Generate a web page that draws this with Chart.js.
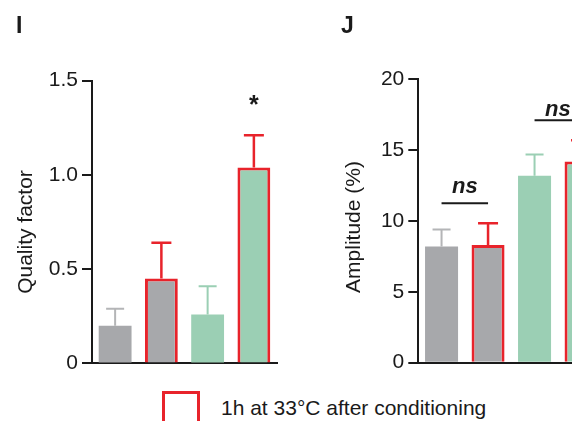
<!DOCTYPE html>
<html>
<head>
<meta charset="utf-8">
<script src="https://cdn.jsdelivr.net/npm/chart.js@4.4.1/dist/chart.umd.min.js"></script>
<style>
  html, body { margin: 0; padding: 0; background: #fff; }
  body { width: 572px; height: 421px; overflow: hidden; position: relative;
         font-family: "Liberation Sans", Arial, Helvetica, sans-serif; }
  #chartI { position: absolute; left: 0; top: 0; }
  #chartJ { position: absolute; left: 300px; top: 0; }
  .key { position: absolute; left: 162px; top: 391px; width: 38px; height: 38px;
         border: 3px solid #e8232b; box-sizing: border-box; }
  .key-text { position: absolute; left: 221px; top: 397px; font-size: 21px; line-height: 21px;
              color: #1a1a1a; white-space: nowrap; }
</style>
</head>
<body>
<canvas id="chartI" width="290" height="380"></canvas>
<canvas id="chartJ" width="320" height="380"></canvas>
<div class="key"></div>
<div class="key-text">1h at 33°C after conditioning</div>

<script>
// Groups: naive / conditioned, each measured at baseline and after 1h at 33°C
const groups = ['naive', 'naive + 1h 33°C', 'conditioned', 'conditioned + 1h 33°C'];
const heated = [false, true, false, true];
const conditioned = [false, false, true, true];

// Panel I: quality factor (mean, SEM)
const qualityMean = [0.20, 0.45, 0.26, 1.04];
const qualityErr = [0.09, 0.19, 0.15, 0.17];
const qualityTicks = ['0', '0.5', '1.0', '1.5'];
const qualityMarks = ['', '', '', '*'];

// Panel J: amplitude in % (mean, SEM)
const amplitudeMean = [8.2, 8.3, 13.2, 14.2];
const amplitudeErr = [1.2, 1.55, 1.5, 1.5];
const amplitudeTicks = ['0', '5', '10', '15', '20'];
const amplitudeBrackets = [
  { from: 0, to: 1, text: 'ns' },
  { from: 2, to: 3, text: 'ns' }
];

const FONT = '"Liberation Sans", Arial, Helvetica, sans-serif';
const INK = '#1a1a1a';
const GRAY = '#a7a8ab';
const GRAY_ERR = '#b4b5b7';
const GREEN = '#9bcfb4';
const RED = '#e8232b';

Chart.defaults.font.family = FONT;
Chart.defaults.color = INK;

// Error bars: stem from bar top to mean + SEM, with a horizontal cap
const errorBars = {
  id: 'errorBars',
  afterDatasetsDraw(chart, args, opts) {
    const { ctx } = chart;
    const y = chart.scales.y;
    const meta = chart.getDatasetMeta(0);
    const values = chart.data.datasets[0].data;
    meta.data.forEach((bar, i) => {
      const base = y.getPixelForValue(values[i]);
      const top = y.getPixelForValue(values[i] + opts.errors[i]);
      const red = heated[i];
      const color = red ? RED : (conditioned[i] ? GREEN : GRAY_ERR);
      const cap = red ? 20 : 18;
      ctx.save();
      ctx.strokeStyle = color;
      ctx.lineWidth = red ? 2.5 : 2;
      ctx.beginPath();
      ctx.moveTo(bar.x, base);
      ctx.lineTo(bar.x, top);
      ctx.moveTo(bar.x - cap / 2, top);
      ctx.lineTo(bar.x + cap / 2, top);
      ctx.stroke();
      ctx.restore();
    });
  }
};

// Panel letter, axis title, significance marks and brackets
const annotations = {
  id: 'annotations',
  afterDraw(chart, args, opts) {
    const { ctx } = chart;
    const y = chart.scales.y;
    const meta = chart.getDatasetMeta(0);
    const values = chart.data.datasets[0].data;
    const errs = opts.errors;
    const topOf = i => y.getPixelForValue(values[i] + errs[i]);
    ctx.save();
    ctx.fillStyle = INK;
    ctx.font = 'bold 23px ' + FONT;
    ctx.textAlign = 'left';
    ctx.textBaseline = 'alphabetic';
    ctx.fillText(opts.letter, opts.letterX, 33);

    // rotated y-axis title
    ctx.save();
    ctx.translate(opts.titleX, opts.titleY);
    ctx.rotate(-Math.PI / 2);
    ctx.font = '21px ' + FONT;
    ctx.textAlign = 'center';
    ctx.textBaseline = 'middle';
    ctx.fillText(opts.title, 0, 0);
    ctx.restore();

    (opts.marks || []).forEach((m, i) => {
      if (!m) return;
      ctx.font = 'bold 25px ' + FONT;
      ctx.textAlign = 'center';
      ctx.fillText(m, meta.data[i].x, topOf(i) - 22);
    });

    (opts.brackets || []).forEach((b, k) => {
      const x1 = meta.data[b.from].x;
      const x2 = meta.data[b.to].x;
      const lineY = Math.min(topOf(b.from), topOf(b.to)) - 20;
      ctx.strokeStyle = INK;
      ctx.lineWidth = 2;
      ctx.beginPath();
      ctx.moveTo(x1, lineY);
      ctx.lineTo(x2, lineY);
      ctx.stroke();
      ctx.font = 'italic bold 22px ' + FONT;
      ctx.textAlign = 'center';
      ctx.fillText(b.text, (x1 + x2) / 2, lineY - opts.textGap[k]);
    });
    ctx.restore();
  }
};

function barChart(id, cfg) {
  return new Chart(document.getElementById(id), {
    type: 'bar',
    data: {
      labels: groups,
      datasets: [{
        data: cfg.values,
        backgroundColor: conditioned.map(c => c ? GREEN : GRAY),
        borderColor: RED,
        borderWidth: heated.map(h => h ? 3 : 0),
        borderSkipped: 'start',
        barPercentage: 0.71,
        categoryPercentage: 1
      }]
    },
    options: {
      responsive: false,
      animation: false,
      devicePixelRatio: 1,
      layout: { padding: cfg.padding },
      plugins: {
        legend: { display: false },
        tooltip: { enabled: false },
        errorBars: { errors: cfg.errors },
        annotations: Object.assign({ errors: cfg.errors, title: cfg.title }, cfg.notes)
      },
      scales: {
        x: {
          z: 1,
          afterFit(s) { s.height = 0; },
          grid: { display: false },
          border: { display: true, color: INK, width: 2 },
          ticks: { display: false }
        },
        y: {
          min: 0,
          max: cfg.max,
          afterFit(s) { s.width = cfg.axisWidth; },
          border: { display: true, color: INK, width: 2 },
          grid: { display: true, drawOnChartArea: false, drawTicks: true, tickLength: 10,
                  color: INK, lineWidth: 2 },
          ticks: {
            stepSize: cfg.step,
            padding: 4,
            color: INK,
            font: { size: 21 },
            callback: (v, i) => cfg.tickLabels[i]
          },
          title: { display: false }
        }
      }
    },
    plugins: [errorBars, annotations]
  });
}

barChart('chartI', {
  values: qualityMean,
  errors: qualityErr,
  max: 1.5,
  step: 0.5,
  tickLabels: qualityTicks,
  title: 'Quality factor',
  axisWidth: 92,
  padding: { left: 0, top: 80.7, right: 13, bottom: 15.7 },
  notes: { letter: 'I', letterX: 16, titleX: 26, titleY: 232, marks: qualityMarks }
});

barChart('chartJ', {
  values: amplitudeMean,
  errors: amplitudeErr,
  max: 20,
  step: 5,
  tickLabels: amplitudeTicks,
  title: 'Amplitude (%)',
  axisWidth: 118.3,
  padding: { left: 0, top: 79.3, right: 15.7, bottom: 17.3 },
  notes: { letter: 'J', letterX: 41, titleX: 54, titleY: 227, brackets: amplitudeBrackets, textGap: [10.5, 4] }
});
</script>
</body>
</html>
